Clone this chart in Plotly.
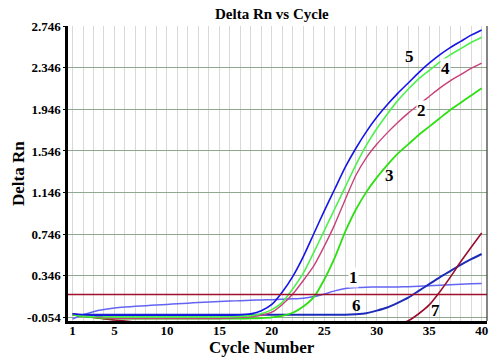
import plotly.graph_objects as go

cycles = list(range(1, 41))

curve1 = [-0.07, -0.03, 0.0, 0.02, 0.035, 0.045, 0.052, 0.058, 0.064, 0.07,
          0.076, 0.082, 0.088, 0.093, 0.098, 0.102, 0.106, 0.11, 0.113, 0.116,
          0.12, 0.124, 0.13, 0.145, 0.17, 0.2, 0.222, 0.232, 0.236, 0.237,
          0.237, 0.238, 0.24, 0.245, 0.25, 0.255, 0.26, 0.265, 0.268, 0.27]
curve2 = [-0.02, -0.035, -0.05, -0.06, -0.065, -0.065, -0.065, -0.065, -0.065, -0.065,
          -0.065, -0.065, -0.065, -0.065, -0.065, -0.062, -0.055, -0.048, -0.035, -0.005,
          0.07, 0.17, 0.3, 0.44, 0.63, 0.84, 1.08, 1.31, 1.48, 1.61,
          1.72, 1.82, 1.91, 1.99, 2.07, 2.15, 2.22, 2.28, 2.34, 2.39]
curve3 = [-0.03, -0.045, -0.055, -0.065, -0.065, -0.066, -0.066, -0.066, -0.066, -0.066,
          -0.066, -0.066, -0.066, -0.066, -0.066, -0.066, -0.066, -0.065, -0.062, -0.055,
          -0.04, -0.01, 0.05, 0.14, 0.31, 0.52, 0.77, 0.98, 1.15, 1.29,
          1.41, 1.52, 1.61, 1.7, 1.78, 1.86, 1.94, 2.01, 2.08, 2.15]
curve4 = [-0.025, -0.04, -0.045, -0.048, -0.05, -0.05, -0.05, -0.05, -0.05, -0.05,
          -0.05, -0.05, -0.05, -0.05, -0.05, -0.048, -0.045, -0.038, -0.02, 0.02,
          0.09, 0.22, 0.37, 0.57, 0.78, 0.99, 1.2, 1.41, 1.6, 1.76,
          1.9, 2.03, 2.14, 2.24, 2.32, 2.4, 2.47, 2.53, 2.59, 2.64]
curve5 = [-0.02, -0.03, -0.035, -0.035, -0.035, -0.035, -0.035, -0.035, -0.035, -0.035,
          -0.035, -0.035, -0.035, -0.035, -0.035, -0.034, -0.03, -0.02, 0.01, 0.07,
          0.19, 0.34, 0.53, 0.75, 0.97, 1.18, 1.39, 1.57, 1.73, 1.87,
          1.99, 2.1, 2.2, 2.3, 2.39, 2.47, 2.54, 2.6, 2.66, 2.71]
curve6 = [-0.03] * 27 + [-0.025, -0.015, 0.01, 0.04, 0.085, 0.135, 0.2, 0.265,
                         0.33, 0.39, 0.45, 0.505, 0.555]
curve7 = [-0.02, -0.04, -0.055, -0.07, -0.08, -0.09, -0.1, -0.11, -0.12, -0.12,
          -0.12, -0.12, -0.12, -0.12, -0.12, -0.12, -0.12, -0.12, -0.12, -0.12,
          -0.12, -0.12, -0.12, -0.12, -0.12, -0.12, -0.12, -0.12, -0.12, -0.12,
          -0.12, -0.12, -0.088, -0.02, 0.065, 0.19, 0.33, 0.48, 0.62, 0.757]

THRESHOLD = 0.165

y_ticks = [-0.054, 0.346, 0.746, 1.146, 1.546, 1.946, 2.346, 2.746]
y_tick_text = ["-0.054", "0.346", "0.746", "1.146", "1.546", "1.946", "2.346", "2.746"]
x_ticks = [1, 5, 10, 15, 20, 25, 30, 35, 40]

series = [
    ("1", curve1, "#6464f4", 1.5),
    ("6", curve6, "#1c2cb8", 2.0),
    ("7", curve7, "#990d2e", 1.6),
    ("3", curve3, "#2ee012", 1.8),
    ("2", curve2, "#c8407a", 1.4),
    ("4", curve4, "#4ef04e", 1.6),
    ("5", curve5, "#1515e8", 1.6),
]

label_names = ["5", "4", "2", "3", "1", "6", "7"]
label_x = [33.1, 36.6, 34.3, 31.2, 27.8, 28.1, 35.6]
label_y = [2.45, 2.335, 1.94, 1.31, 0.33, 0.055, 0.01]
label_bg = [False, True, True, False, True, False, False]

fig = go.Figure()
for name, vals, color, w in series:
    fig.add_trace(go.Scatter(x=cycles, y=vals, mode="lines", name=name,
                             line=dict(color=color, width=w, shape="spline", smoothing=0.5),
                             showlegend=False, hoverinfo="skip"))

serif = "Liberation Serif, Times New Roman, serif"

annotations = []
for n, lx, ly, bg in zip(label_names, label_x, label_y, label_bg):
    annotations.append(dict(x=lx, y=ly, xref="x", yref="y", text="<b>%s</b>" % n,
                            showarrow=False,
                            bgcolor="white" if bg else "rgba(0,0,0,0)",
                            font=dict(family=serif, size=17, color="black"),
                            borderpad=0))
annotations += [
    dict(x=0.488, y=1.0, xref="paper", yref="paper", yanchor="middle", yshift=12,
         text="<b>Delta Rn vs Cycle</b>", showarrow=False,
         font=dict(family=serif, size=15, color="black")),
    dict(x=0.462, y=0, xref="paper", yref="paper", yanchor="top", yshift=-15,
         text="<b>Cycle Number</b>", showarrow=False,
         font=dict(family=serif, size=17, color="black")),
    dict(x=0, y=0.5, xref="paper", yref="paper", xanchor="right", xshift=-38,
         text="<b>Delta Rn</b>", showarrow=False, textangle=-90,
         font=dict(family=serif, size=17, color="black")),
]

# the page body has an 8px margin, so the figure is drawn 8px in from the top-left
fig.update_layout(
    width=492, height=353,
    margin=dict(l=60, r=13, t=18, b=40),
    paper_bgcolor="white", plot_bgcolor="white",
    annotations=annotations,
    shapes=[
        dict(type="line", xref="paper", x0=0, x1=1, yref="y", y0=THRESHOLD, y1=THRESHOLD,
             line=dict(color="#a0102a", width=1.5), layer="above"),
        dict(type="line", xref="paper", x0=1, x1=1, yref="paper", y0=0, y1=1,
             line=dict(color="#333333", width=1.2)),
    ],
    xaxis=dict(range=[0.57, 40.51], tickvals=x_ticks, ticktext=[str(v) for v in x_ticks],
               showgrid=True, gridcolor="#d9d9d9", gridwidth=1,
               minor=dict(tick0=0, dtick=1, showgrid=True, gridcolor="#d9d9d9", gridwidth=1),
               showline=True, linecolor="black", linewidth=2.5,
               ticks="", zeroline=False, automargin=False, ticklabelstandoff=-4,
               tickfont=dict(family=serif, size=13, color="black", weight="bold")),
    yaxis=dict(range=[-0.0896, 2.748], tickvals=y_ticks, ticktext=y_tick_text,
               showgrid=True, gridcolor="#8fa88f", gridwidth=1.2,
               showline=True, linecolor="black", linewidth=2.5,
               ticks="outside", ticklen=2, tickcolor="black", zeroline=False,
               automargin=False,
               tickfont=dict(family=serif, size=13, color="black", weight="bold")),
)

fig.write_html("out.html")
